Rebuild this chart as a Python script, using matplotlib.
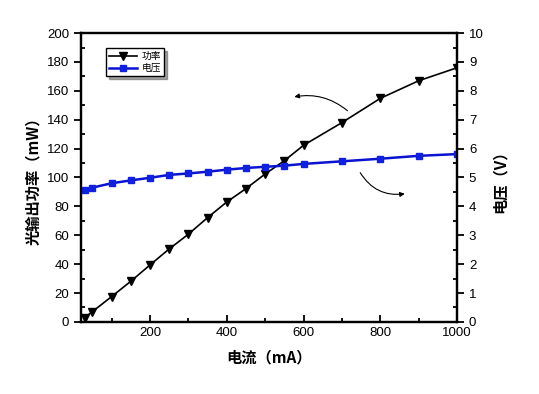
import matplotlib
matplotlib.use("Agg")
import matplotlib.pyplot as plt
from matplotlib.ticker import MultipleLocator

plt.rcParams["font.family"] = ["Liberation Sans", "Noto Sans CJK SC", "DejaVu Sans"]

current_ma = [30, 50, 100, 150, 200, 250, 300, 350, 400, 450, 500, 550, 600, 700, 800, 900, 1000]
power_mw = [3.0, 7.1, 17.5, 28.1, 39.4, 50.5, 60.7, 72.2, 83.0, 92.3, 102.4, 111.6, 122.3,
            138.0, 154.8, 167.0, 176.0]
voltage_v = [4.57, 4.65, 4.80, 4.90, 4.99, 5.09, 5.14, 5.20, 5.27, 5.33, 5.37, 5.41, 5.47,
             5.56, 5.65, 5.75, 5.81]

cjk = ["Noto Sans CJK SC", "DejaVu Sans"]

fig = plt.figure(figsize=(5.39, 3.94), dpi=100)
ax = fig.add_axes([0.150, 0.183, 0.698, 0.733])
ax2 = ax.twinx()

l1, = ax.plot(current_ma, power_mw, color="black", lw=1.2, marker="v", ms=5.5, label="功率")
l2, = ax2.plot(current_ma, voltage_v, color="#0a14d0", lw=1.8, marker="s", ms=4.6,
               mfc="#1020e0", mec="#1020e0", label="电压")

ax.set_xlim(20, 1000)
ax.set_ylim(0, 200)
ax2.set_ylim(0, 10)
ax.set_xticks([200, 400, 600, 800, 1000])
ax.xaxis.set_minor_locator(MultipleLocator(100))
ax.yaxis.set_major_locator(MultipleLocator(20))
ax.yaxis.set_minor_locator(MultipleLocator(10))
ax2.yaxis.set_major_locator(MultipleLocator(1))
ax2.yaxis.set_minor_locator(MultipleLocator(0.5))

for a in (ax, ax2):
    for s in a.spines.values():
        s.set_linewidth(1.6)
ax.tick_params(axis="x", which="both", direction="in", top=False, width=1.3, labelsize=9.5)
ax.tick_params(axis="x", which="major", length=5)
ax.tick_params(axis="x", which="minor", length=3)
ax.tick_params(axis="y", which="major", direction="out", length=5, width=1.3, labelsize=9.5)
ax.tick_params(axis="y", which="minor", direction="in", length=3, width=1.3)
ax2.tick_params(axis="y", which="major", direction="out", length=5, width=1.3, labelsize=9.5)
ax2.tick_params(axis="y", which="minor", direction="in", length=3, width=1.3)

ax.set_xlabel("电流（mA）", family=cjk, fontweight="bold", fontsize=11, labelpad=8)
ax.set_ylabel("光输出功率（mW）", family=cjk, fontweight="bold", fontsize=11, labelpad=4)
ax2.set_ylabel("电压（V）", family=cjk, fontweight="bold", fontsize=11, labelpad=6)

ax.annotate("", xy=(569, 155.5), xytext=(720, 145),
            arrowprops=dict(arrowstyle="-|>", color="black", lw=0.8, mutation_scale=7,
                            connectionstyle="arc3,rad=0.25"))
ax2.annotate("", xy=(871, 4.45), xytext=(744, 5.25),
             arrowprops=dict(arrowstyle="-|>", color="black", lw=0.8, mutation_scale=7,
                             connectionstyle="arc3,rad=0.35"))

leg = ax.legend(handles=[l1, l2], loc="upper left", bbox_to_anchor=(0.055, 0.965),
                prop={"family": cjk, "size": 7}, frameon=True, fancybox=False,
                shadow=True, edgecolor="black", framealpha=1, borderpad=0.3,
                handlelength=2.8, labelspacing=0.2, handletextpad=0.5)
leg.get_frame().set_linewidth(1.0)

fig.savefig("out.png", dpi=100)
